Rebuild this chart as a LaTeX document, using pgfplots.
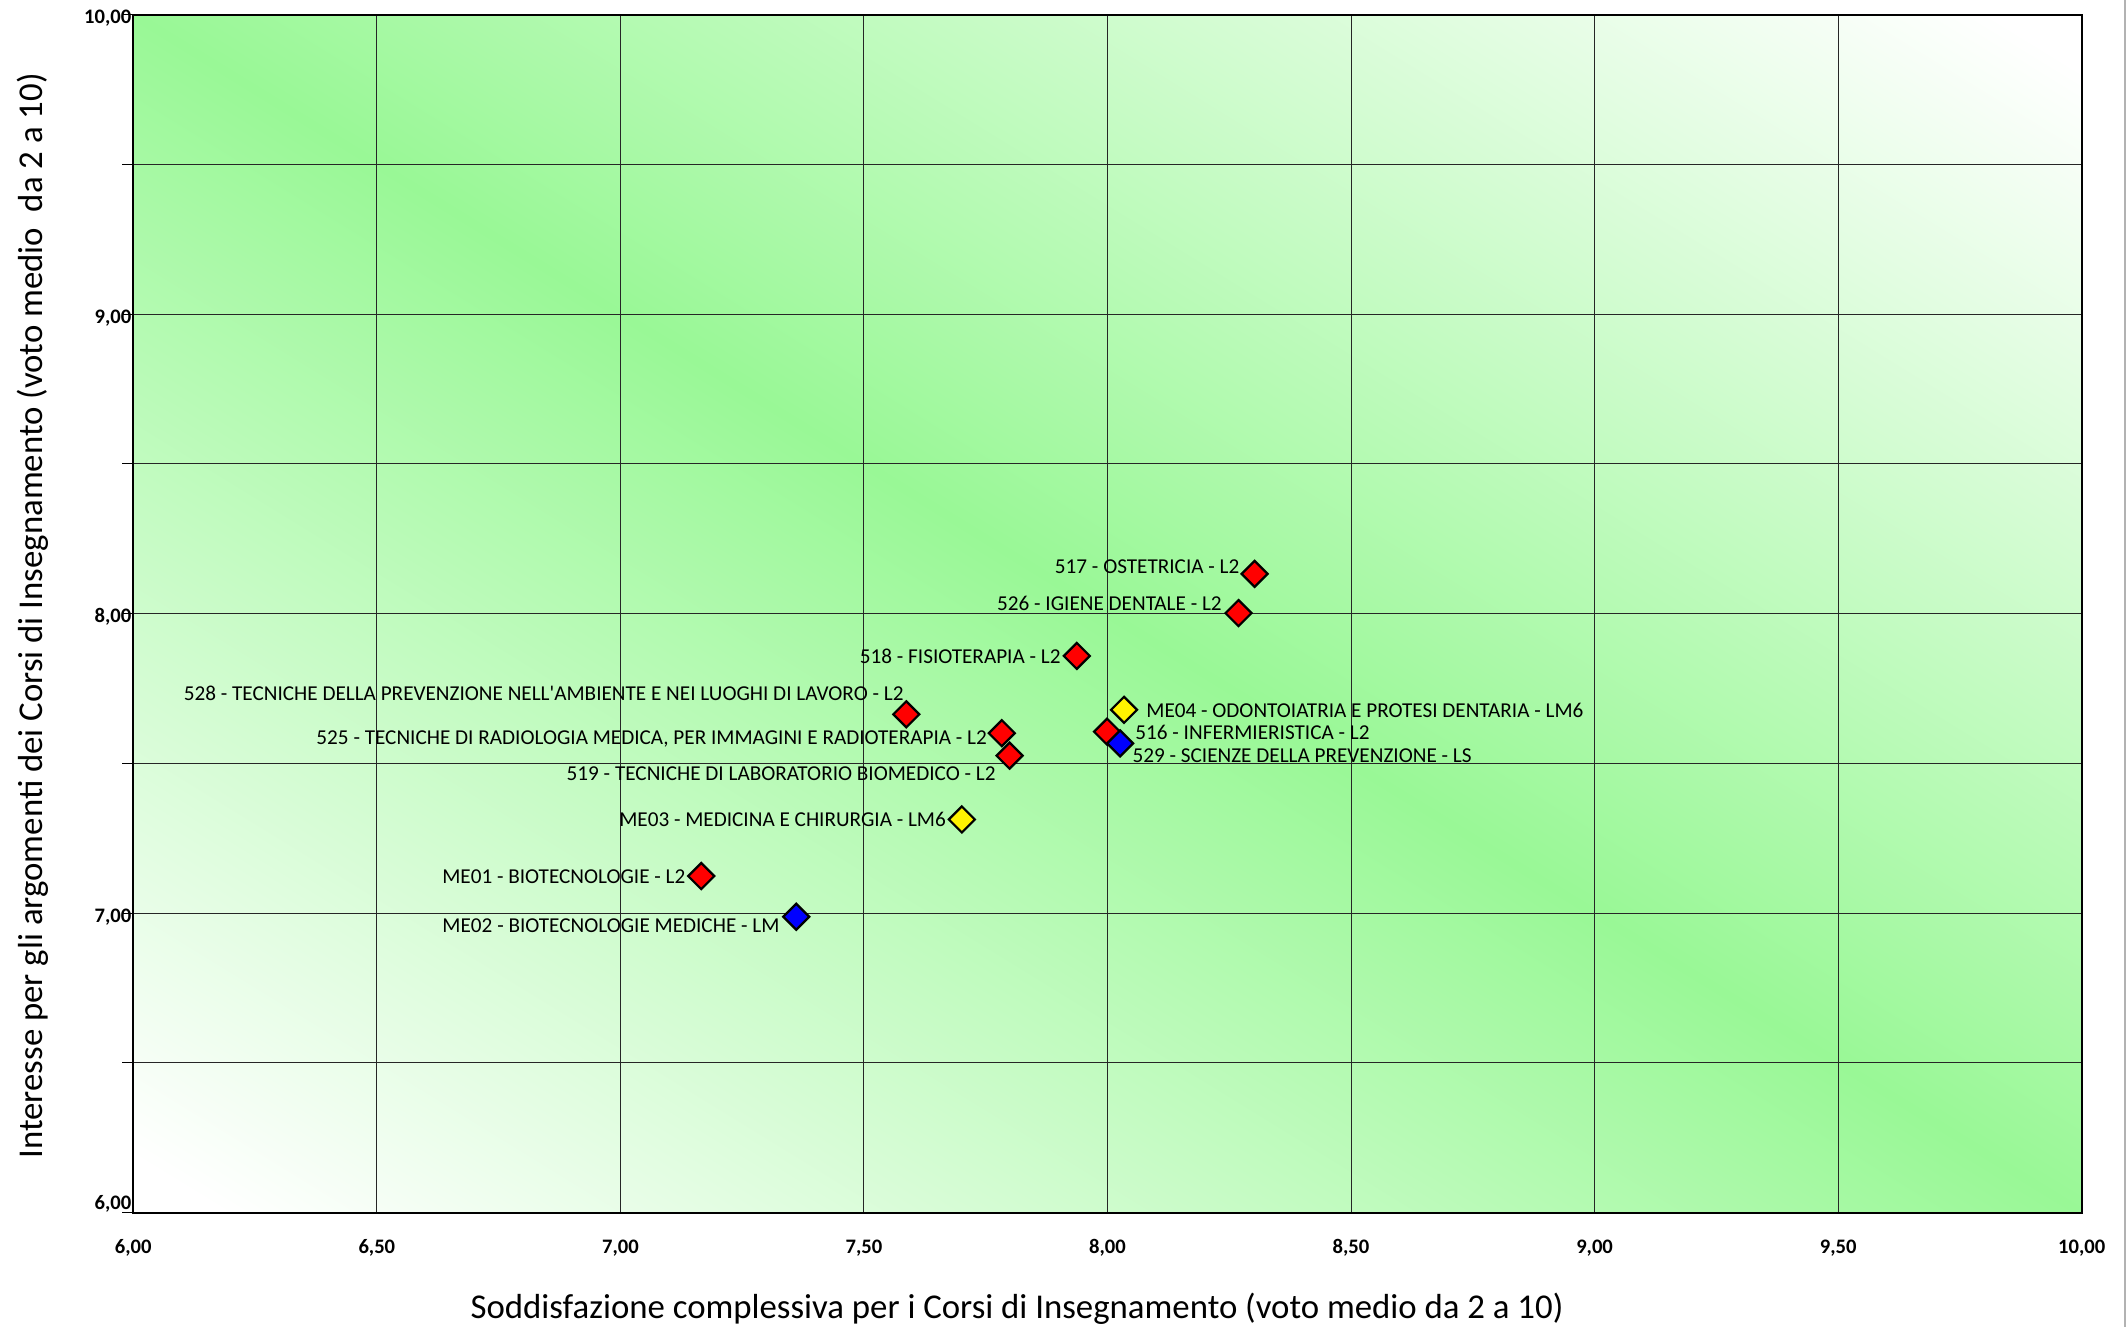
\documentclass[border=0pt]{standalone}
\usepackage{pgfplots}
\pgfplotsset{compat=1.18}
\usepackage{fontspec}
\setmainfont{Carlito}
\definecolor{pgreen}{RGB}{153,248,150}
\pgfdeclareverticalshading{bgshade}{100bp}{color(0bp)=(white); color(17bp)=(white); color(50bp)=(pgreen); color(83bp)=(white); color(100bp)=(white)}
\begin{document}
\begin{tikzpicture}
\begin{axis}[
  at={(0,0)}, anchor=south west,
  scale only axis, width=974.2pt, height=599pt,
  xmin=6, xmax=10, ymin=6, ymax=10,
  xtick={6,6.5,7,7.5,8,8.5,9,9.5,10},
  xticklabels={{6,00},{6,50},{7,00},{7,50},{8,00},{8,50},{9,00},{9,50},{10,00}},
  ytick={6,7,8,9,10},
  minor ytick={6.5,7.5,8.5,9.5},
  yticklabels={{\raisebox{6pt}{6,00}},{7,00},{8,00},{9,00},{10,00}},
  xmajorgrids, ymajorgrids, yminorgrids,
  major grid style={black!85, line width=0.5pt},
  minor grid style={black!85, line width=0.5pt},
  tick align=outside, ytick pos=left,
  xtick style={draw=none},
  ytick style={black, line width=0.5pt},
  major tick length=5.5pt, minor tick length=5.5pt,
  ticklabel style={font=\bfseries\fontsize{10.3}{12}\selectfont, inner sep=0pt},
  xticklabel style={anchor=base, yshift=-14.8pt},
  yticklabel style={anchor=base east, xshift=4.7pt, yshift=-4.6pt},
  axis line style={black, line width=0.9pt},
  axis background/.style={shading=bgshade, shading angle=-31.59},
  clip=false,
]
\addplot[only marks, mark=square*, mark size=4.6pt, mark options={rotate=45, fill=red, draw=black, line width=1.1pt}] coordinates {
 (8.302,8.133) (8.269,8.002) (7.937,7.859) (7.587,7.664) (7.783,7.601) (7.799,7.526) (7.999,7.606) (7.166,7.124)};
\addplot[only marks, mark=square*, mark size=4.6pt, mark options={rotate=45, fill=yellow, draw=black, line width=1.1pt}] coordinates {
 (8.034,7.679) (7.701,7.313)};
\addplot[only marks, mark=square*, mark size=4.6pt, mark options={rotate=45, fill=blue, draw=black, line width=1.1pt}] coordinates {
 (8.026,7.567) (7.361,6.988)};
\begin{scope}[every node/.style={inner sep=0pt, font=\fontsize{10.6}{12}\selectfont}]
\node[anchor=base east] at (axis cs:8.2716,8.1326) {517 - OSTETRICIA - L2};
\node[anchor=base east] at (axis cs:8.2353,8.0112) {526 - IGIENE DENTALE - L2};
\node[anchor=base east] at (axis cs:7.9045,7.8332) {518 - FISIOTERAPIA - L2};
\node[anchor=base east] at (axis cs:7.5822,7.7085) {528 - TECNICHE DELLA PREVENZIONE NELL\textquotesingle AMBIENTE E NEI LUOGHI DI LAVORO - L2};
\node[anchor=base east] at (axis cs:7.7532,7.5616) {525 - TECNICHE DI RADIOLOGIA MEDICA, PER IMMAGINI E RADIOTERAPIA - L2};
\node[anchor=base east] at (axis cs:7.7711,7.4441) {519 - TECNICHE DI LABORATORIO BIOMEDICO - L2};
\node[anchor=base east] at (axis cs:7.669,7.290) {ME03 - MEDICINA E CHIRURGIA - LM6};
\node[anchor=base east] at (axis cs:7.1343,7.0975) {ME01 - BIOTECNOLOGIE - L2};
\node[anchor=base east] at (axis cs:7.3275,6.9372) {ME02 - BIOTECNOLOGIE MEDICHE - LM};
\node[anchor=base west] at (axis cs:8.079,7.655) {ME04 - ODONTOIATRIA E PROTESI DENTARIA - LM6};
\node[anchor=base west] at (axis cs:8.0565,7.5793) {516 - INFERMIERISTICA - L2};
\node[anchor=base west] at (axis cs:8.0507,7.5048) {529 - SCIENZE DELLA PREVENZIONE - LS};
\end{scope}
\end{axis}
\node[anchor=base, inner sep=0pt, font=\fontsize{17.4}{20}\selectfont] at (441.9pt,-53pt) {Soddisfazione complessiva per i Corsi di Insegnamento (voto medio da 2 a 10)};
\node[anchor=base, rotate=90, inner sep=0pt, font=\fontsize{17.4}{20}\selectfont] at (-45.6pt,298.4pt) {Interesse per gli argomenti dei Corsi di Insegnamento (voto medio\ \ da 2 a 10)};
\draw[gray!60, line width=1pt] (995.9pt,-57.15pt) -- (995.9pt,606.35pt);
\pgfresetboundingbox
\useasboundingbox (-66.65pt,-57.15pt) rectangle (996.85pt,606.35pt);
\end{tikzpicture}
\end{document}
